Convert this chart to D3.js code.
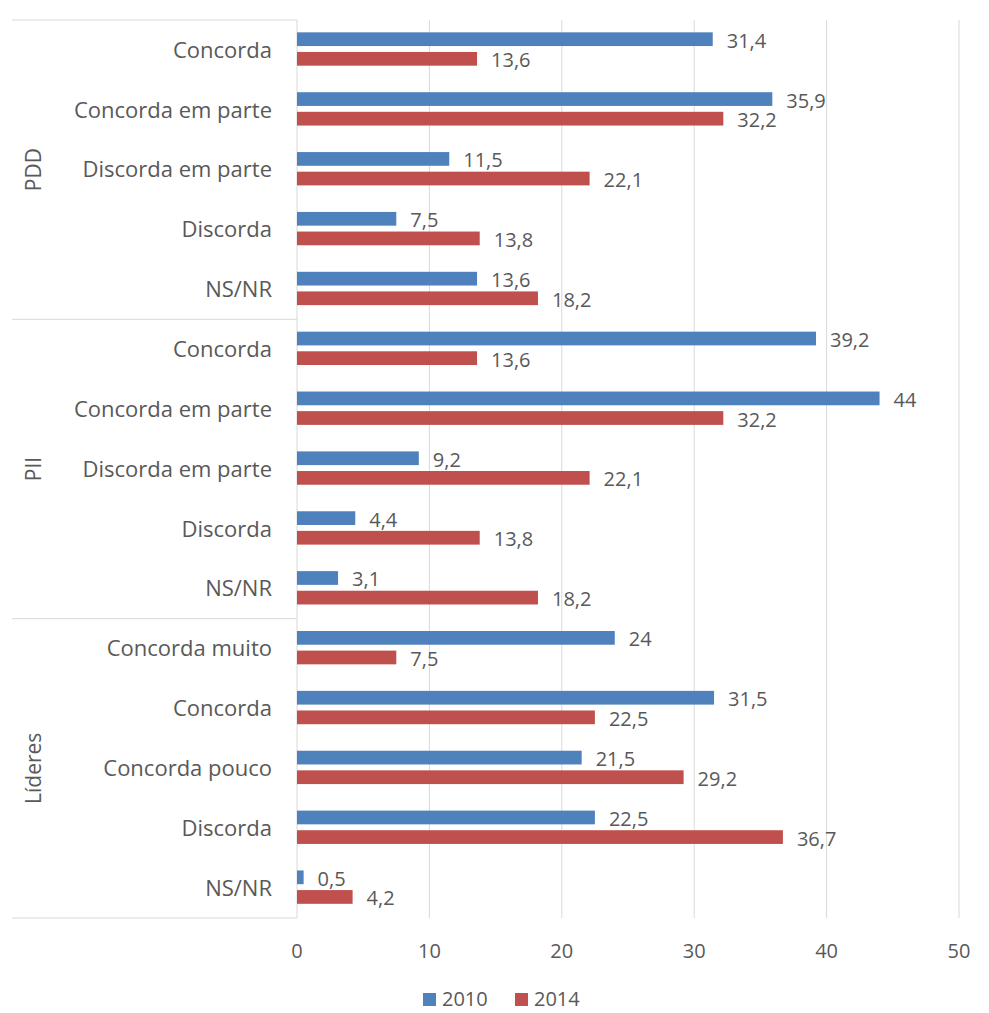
<!DOCTYPE html>
<html>
<head>
<meta charset="utf-8">
<script src="https://cdn.jsdelivr.net/npm/d3@7"></script>
<style>
  html, body { margin: 0; padding: 0; background: #fff; }
  svg { display: block; font-family: "Open Sans", "Noto Sans", sans-serif; }
</style>
</head>
<body>
<svg id="chart" width="989" height="1013"></svg>
<script>
// ---- Data ----
const groups = ["PDD", "PII", "Líderes"];
const categories = [
  "Concorda", "Concorda em parte", "Discorda em parte", "Discorda", "NS/NR",
  "Concorda", "Concorda em parte", "Discorda em parte", "Discorda", "NS/NR",
  "Concorda muito", "Concorda", "Concorda pouco", "Discorda", "NS/NR"
];
const categoryGroup = [0,0,0,0,0, 1,1,1,1,1, 2,2,2,2,2];
const series = ["2010", "2014"];
const values2010 = [31.4, 35.9, 11.5, 7.5, 13.6, 39.2, 44, 9.2, 4.4, 3.1, 24, 31.5, 21.5, 22.5, 0.5];
const values2014 = [13.6, 32.2, 22.1, 13.8, 18.2, 13.6, 32.2, 22.1, 13.8, 18.2, 7.5, 22.5, 29.2, 36.7, 4.2];
const xTicks = [0, 10, 20, 30, 40, 50];
const colors = ["#4F81BD", "#C0504D"];

const fmt = v => String(v).replace(".", ",");

// ---- Layout ----
const svg = d3.select("#chart");
const plotL = 297, plotR = 959, plotT = 20, plotB = 918, boxL = 12;

const x = d3.scaleLinear().domain([0, 50]).range([plotL, plotR]);
const rowIds = d3.range(categories.length);
const y = d3.scaleBand().domain(rowIds).range([plotT, plotB]).padding(0);
const rowH = y.bandwidth();
const inner = d3.scaleBand().domain(series)
  .range([rowH * 0.206, rowH * 0.763]).paddingInner(0.3).paddingOuter(0);

const gridColor = "#d9d9d9";
const textColor = "#595959";

// gridlines
svg.append("g").selectAll("line").data(xTicks.slice(1)).join("line")
  .attr("x1", d => x(d)).attr("x2", d => x(d))
  .attr("y1", plotT).attr("y2", plotB)
  .attr("stroke", gridColor).attr("stroke-width", 1);

// axis vertical line
svg.append("line").attr("x1", plotL).attr("x2", plotL).attr("y1", plotT).attr("y2", plotB)
  .attr("stroke", gridColor).attr("stroke-width", 1);

// group separators
const groupBounds = [0, 5, 10, 15];
svg.append("g").selectAll("line").data(groupBounds).join("line")
  .attr("x1", boxL).attr("x2", plotL)
  .attr("y1", d => d < 15 ? y(d) : plotB).attr("y2", d => d < 15 ? y(d) : plotB)
  .attr("stroke", gridColor).attr("stroke-width", 1);

// bars
const seriesVals = [values2010, values2014];
series.forEach((s, si) => {
  const g = svg.append("g");
  g.selectAll("rect").data(rowIds).join("rect")
    .attr("x", x(0))
    .attr("y", i => y(i) + inner(s))
    .attr("width", i => x(seriesVals[si][i]) - x(0))
    .attr("height", inner.bandwidth())
    .attr("fill", colors[si]);
  g.selectAll("text").data(rowIds).join("text")
    .attr("x", i => x(seriesVals[si][i]) + 14)
    .attr("y", i => y(i) + inner(s) + inner.bandwidth() / 2 + 1.5)
    .attr("dy", "0.35em")
    .attr("font-size", 20)
    .attr("fill", textColor)
    .text(i => fmt(seriesVals[si][i]));
});

// category labels
svg.append("g").selectAll("text").data(rowIds).join("text")
  .attr("x", 272)
  .attr("y", i => y(i) + rowH / 2)
  .attr("dy", "0.35em")
  .attr("text-anchor", "end")
  .attr("font-size", 22)
  .attr("fill", textColor)
  .text(i => categories[i]);

// group labels
svg.append("g").selectAll("text").data(groups).join("text")
  .attr("transform", (d, gi) => {
    const cy = (y(gi * 5) + (gi * 5 + 5 < 15 ? y(gi * 5 + 5) : plotB)) / 2;
    return `translate(41,${cy}) rotate(-90)`;
  })
  .attr("text-anchor", "middle")
  .attr("font-size", 21)
  .attr("fill", textColor)
  .text(d => d);

// x tick labels
svg.append("g").selectAll("text").data(xTicks).join("text")
  .attr("x", d => x(d))
  .attr("y", 951)
  .attr("dy", "0.35em")
  .attr("text-anchor", "middle")
  .attr("font-size", 20)
  .attr("fill", textColor)
  .text(d => d);

// legend
const legendX = [423, 515];
const lg = svg.append("g");
series.forEach((s, si) => {
  lg.append("rect").attr("x", legendX[si]).attr("y", 993).attr("width", 13).attr("height", 13)
    .attr("fill", colors[si]);
  lg.append("text").attr("x", legendX[si] + 19).attr("y", 999).attr("dy", "0.35em")
    .attr("font-size", 20).attr("fill", textColor).text(s);
});
</script>
</body>
</html>
